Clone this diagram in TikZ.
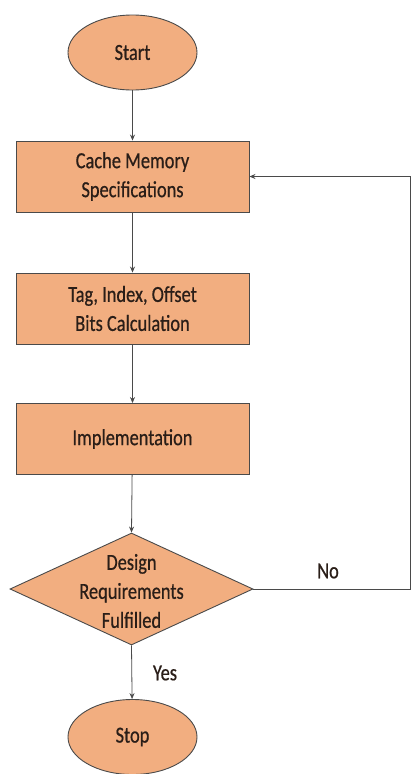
\documentclass[tikz,border=0pt]{standalone}
\usepackage{fontspec}
\setmainfont{Carlito}[FakeStretch=0.8,FakeBold=0.6]
\usetikzlibrary{shapes.geometric,arrows.meta}
\definecolor{boxfill}{HTML}{F2AE80}
\definecolor{edge}{HTML}{4A4A4A}
\definecolor{txt}{HTML}{2A1E18}
\tikzset{
  every node/.style={font=\fontsize{23}{29}\selectfont, text=txt},
  term/.style={ellipse, draw=edge, line width=0.9pt, fill=boxfill, minimum width=129pt, minimum height=75pt, inner sep=0pt},
  proc/.style={rectangle, draw=edge, line width=0.9pt, fill=boxfill, minimum width=233pt, minimum height=71pt, align=center, inner sep=0pt},
  dec/.style={diamond, draw=edge, line width=0.9pt, fill=boxfill, minimum width=243pt, minimum height=112pt, inner sep=0pt},
  conn/.style={draw=edge, line width=0.8pt, -{Stealth[length=6pt,width=5pt]}},
  plain/.style={draw=edge, line width=0.8pt},
  lbl/.style={inner sep=0pt}
}
\begin{document}
\begin{tikzpicture}[x=1pt,y=-1pt]
\useasboundingbox[fill=white] (0,0) rectangle (412,774);
\node[term] (start) at (132.5,52.5) {Start};
\node[proc] (spec) at (132.5,176.5) {Cache Memory\\Specifications};
\node[proc] (bits) at (132.5,308.5) {Tag, Index, Offset\\Bits Calculation};
\node[proc] (impl) at (132.5,439) {Implementation};
\node[dec] (req) at (131.5,589) {};
\node[align=center, inner sep=0pt] (reqtext) at (131.5,591) {Design\\Requirements\\Fulfilled};
\node[term] (stop) at (132.5,737) {Stop};
\coordinate (c1) at (410.5,589);
\coordinate (c2) at (410.5,176.5);
\draw[conn] (start) -- (spec);
\draw[conn] (spec) -- (bits);
\draw[conn] (bits) -- (impl);
\draw[conn] (impl) -- (req.north);
\draw[conn] (req.south) -- (stop);
\draw[plain] (req.east) -- (c1) -- (c2);
\draw[conn] (c2) -- (spec.east);
\node[lbl] (no) at (328,571) {No};
\node[lbl] (yes) at (165,673) {Yes};
\end{tikzpicture}
\end{document}
